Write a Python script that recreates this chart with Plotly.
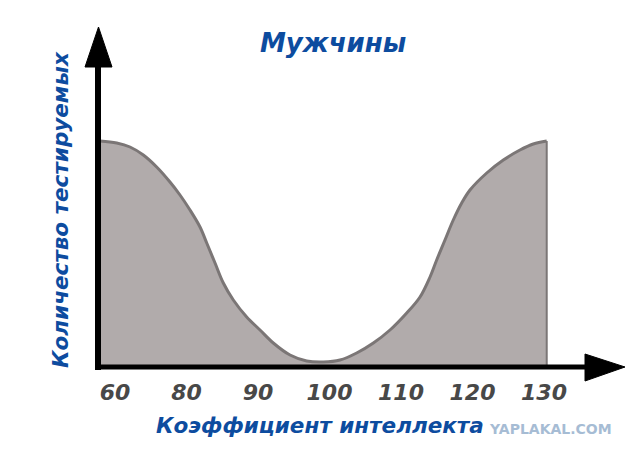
import plotly.graph_objects as go

# Tick labels (evenly spaced slots on the x axis)
tick_labels = ["60", "80", "90", "100", "110", "120", "130"]
tick_slots = [0, 1, 2, 3, 4, 5, 6]

# Curve, x in tick-slot units, y = number of test takers (arbitrary units)
curve_x = [-0.210, 0.024, 0.210, 0.396, 0.583, 0.769, 0.909, 1.049, 1.189, 1.283,
           1.399, 1.515, 1.655, 1.842, 2.028, 2.214, 2.448, 2.681, 2.913, 3.147,
           3.380, 3.613, 3.846, 4.080, 4.266, 4.406, 4.499, 4.615, 4.731, 4.849,
           4.965, 5.199, 5.431, 5.664, 5.850, 6.038]
curve_y = [226, 224, 220, 212, 200, 185, 172, 157, 140, 124,
           104, 84, 67, 50, 37, 24, 12, 6, 5, 7,
           14, 24, 37, 54, 70, 90, 107, 127, 147, 164,
           177, 194, 207, 217, 223, 226]

title_text = "Мужчины"
x_title = "Коэффициент интеллекта"
y_title = "Количество тестируемых"
watermark = "YAPLAKAL.COM"

BLUE = "#0d4c9f"
FILL = "#b1abab"
EDGE = "#7b7676"
FONT = "DejaVu Sans"

OFF = 8  # page body margin
W, H = 640 - OFF, 459 - OFF
L, R, T, B = 98, 625, 27, 367  # plot area in reference-pixels


def px(x):
    return (x - L) / (R - L)


def py(y):
    return (B - y) / (B - T)


fig = go.Figure()
fig.add_trace(go.Scatter(
    x=curve_x, y=curve_y, mode="lines", fill="tozeroy",
    fillcolor=FILL, line=dict(color=EDGE, width=3, shape="spline", smoothing=1),
    hoverinfo="skip", showlegend=False))
# right vertical edge of the filled region
fig.add_trace(go.Scatter(
    x=[curve_x[-1], curve_x[-1]], y=[curve_y[-1], 0], mode="lines",
    line=dict(color=EDGE, width=2), hoverinfo="skip", showlegend=False))

slot_px = 71.5
slot0_px = 115
x_range = [(L - slot0_px) / slot_px, (R - slot0_px) / slot_px]

fig.update_xaxes(range=x_range, tickvals=tick_slots, ticktext=tick_labels,
                 showgrid=False, zeroline=False, showline=False, ticks="",
                 ticklabelstandoff=10,
                 tickfont=dict(family=FONT, size=22, color="#484848",
                               weight="bold", style="italic"))
fig.update_yaxes(range=[0, B - T], showgrid=False, zeroline=False,
                 showline=False, showticklabels=False, ticks="")

shapes = []
# y axis line + arrowhead
shapes.append(dict(type="line", xref="paper", yref="paper",
                   x0=0, x1=0, y0=py(370), y1=py(62),
                   line=dict(color="black", width=6)))
shapes.append(dict(type="path", xref="paper", yref="paper",
                   path=f"M {px(85)},{py(67)} L {px(112)},{py(67)} L {px(98.5)},{py(27)} Z",
                   fillcolor="black", line=dict(color="black", width=1)))
# x axis line + arrowhead
shapes.append(dict(type="line", xref="paper", yref="paper",
                   x0=px(95), x1=px(590), y0=0, y1=0,
                   line=dict(color="black", width=5)))
shapes.append(dict(type="path", xref="paper", yref="paper",
                   path=f"M {px(585)},{py(354)} L {px(585)},{py(381)} L {px(625)},{py(367)} Z",
                   fillcolor="black", line=dict(color="black", width=1)))

annotations = [
    dict(text=title_text, x=px(333), y=py(43), xref="paper", yref="paper",
         showarrow=False, xanchor="center", yanchor="middle",
         font=dict(family=FONT, size=26, color=BLUE, weight="bold", style="italic")),
    dict(text=x_title, x=px(320), y=py(425), xref="paper", yref="paper",
         showarrow=False, xanchor="center", yanchor="middle",
         font=dict(family=FONT, size=21.5, color=BLUE, weight="bold", style="italic")),
    dict(text=y_title, x=px(60), y=py(210), xref="paper", yref="paper",
         showarrow=False, xanchor="center", yanchor="middle", textangle=-90,
         font=dict(family=FONT, size=21.5, color=BLUE, weight="bold", style="italic")),
    dict(text=watermark, x=px(550), y=py(429), xref="paper", yref="paper",
         showarrow=False, xanchor="center", yanchor="middle",
         font=dict(family=FONT, size=14, color="#a6bcd4", weight="bold")),
]

fig.update_layout(width=W, height=H,
                  margin=dict(l=L - OFF, r=640 - R, t=T - OFF, b=459 - B),
                  paper_bgcolor="white", plot_bgcolor="white",
                  shapes=shapes, annotations=annotations, showlegend=False)

fig.write_html("out.html")
